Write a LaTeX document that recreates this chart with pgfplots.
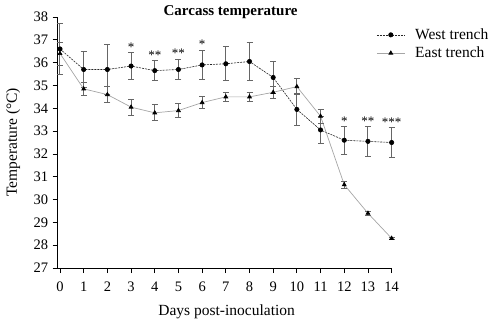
\documentclass[border=0pt]{standalone}
\usepackage{pgfplots}
\pgfplotsset{compat=1.18}
\usepackage{fontspec}
\setmainfont{Liberation Serif}
\begin{document}
\begin{tikzpicture}[x=1pt,y=1pt]
\path (-60,-57) rectangle (440,268);
\begin{axis}[
  at={(0,0)}, anchor=origin,
  scale only axis, width=334pt, height=251pt,
  axis lines*=left,
  xmin=-0.1, xmax=14, ymin=27, ymax=38,
  xtick={0,...,14}, ytick={27,...,38},
  tick align=outside, tick style={black, line width=0.8pt}, major tick length=5pt,
  axis line style={black, line width=0.9pt},
  /pgf/number format/assume math mode=true,
  ticklabel style={font=\fontsize{14.5}{16}\selectfont},
  xticklabel style={yshift=-5pt},
  yticklabel style={xshift=-1pt},
  xlabel={Days post-inoculation}, ylabel={Temperature (°C)},
  label style={font=\fontsize{15.5}{17}\selectfont},
  xlabel style={at={(axis description cs:0.5,0)}, anchor=north, yshift=-33pt, xshift=2pt},
  ylabel style={at={(axis description cs:0,0.5)}, anchor=south, yshift=34pt},
  title={\textbf{Carcass temperature}},
  title style={font=\fontsize{15}{17}\selectfont, at={(0.5,1)}, anchor=center, yshift=-1pt, xshift=6pt},
  legend style={at={(0.945,0.97)}, anchor=north west, draw=none, fill=none,
    font=\fontsize{15.5}{17}\selectfont, row sep=2pt,
    /tikz/every odd column/.append style={column sep=8pt}},
  legend image code/.code={\draw[mark repeat=2,mark phase=2] plot coordinates {(0pt,0pt)(14pt,0pt)(28pt,0pt)};},
  legend cell align=left,
  clip=false,
]
\addplot+[black!85, dash pattern=on 2pt off 1pt, line width=0.6pt, mark=*, mark size=2.2pt,
  mark options={solid, fill=black, draw=black},
  error bars/.cd, y dir=both, y explicit,
  error bar style={gray!80!black, line width=1pt, solid},
  error mark options={rotate=90, mark size=3pt, gray!80!black, line width=0.8pt}]
coordinates {
(0,36.6) +- (0,1.1)
(1,35.7) +- (0,0.8)
(2,35.7) +- (0,1.1)
(3,35.85) +- (0,0.6)
(4,35.65) +- (0,0.45)
(5,35.7) +- (0,0.45)
(6,35.9) +- (0,0.65)
(7,35.95) +- (0,0.75)
(8,36.05) +- (0,0.85)
(9,35.35) +- (0,0.7)
(10,33.95) +- (0,0.7)
(11,33.05) +- (0,0.6)
(12,32.6) +- (0,0.6)
(13,32.55) +- (0,0.65)
(14,32.5) +- (0,0.65)
};
\addlegendentry{West trench}
\addplot+[gray!70, solid, line width=0.7pt, mark=triangle*, mark size=2.2pt,
  mark options={solid, fill=black, draw=black},
  error bars/.cd, y dir=both, y explicit,
  error bar style={gray!80!black, line width=1pt, solid},
  error mark options={rotate=90, mark size=3pt, gray!80!black, line width=0.8pt}]
coordinates {
(0,36.4) +- (0,0.5)
(1,34.85) +- (0,0.3)
(2,34.6) +- (0,0.35)
(3,34.05) +- (0,0.35)
(4,33.8) +- (0,0.35)
(5,33.9) +- (0,0.3)
(6,34.25) +- (0,0.25)
(7,34.5) +- (0,0.2)
(8,34.5) +- (0,0.2)
(9,34.7) +- (0,0.25)
(10,34.95) +- (0,0.35)
(11,33.65) +- (0,0.3)
(12,30.65) +- (0,0.15)
(13,29.4) +- (0,0.1)
(14,28.3) +- (0,0.05)
};
\addlegendentry{East trench}
\begin{scope}[every node/.style={font=\fontsize{13}{13}\selectfont, inner sep=0pt, anchor=south}]
\node at (axis cs:3,36.5) {*};
\node at (axis cs:4,36.15) {**};
\node at (axis cs:5,36.2) {**};
\node at (axis cs:6,36.6) {*};
\node at (axis cs:12,33.25) {*};
\node at (axis cs:13,33.25) {**};
\node at (axis cs:14,33.2) {***};
\end{scope}
\end{axis}
\end{tikzpicture}
\end{document}
